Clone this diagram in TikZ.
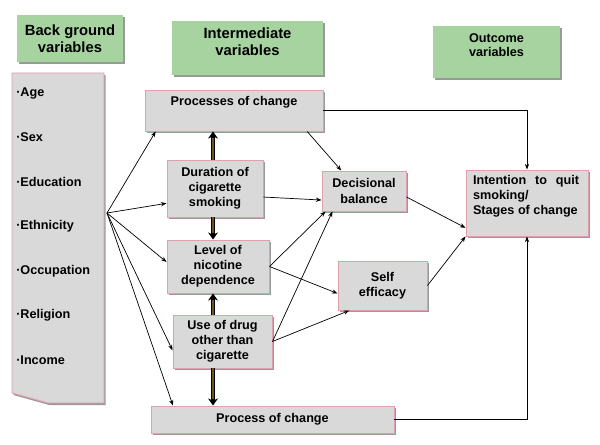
\documentclass[tikz,border=0pt]{standalone}
\usepackage{fontspec}
\setsansfont{Liberation Sans}
\usetikzlibrary{positioning,arrows.meta,shadows}

\definecolor{headgreen}{RGB}{166,211,160}
\definecolor{boxgray}{RGB}{217,217,217}
\definecolor{boxpink}{RGB}{221,160,172}
\definecolor{arrowbrown}{RGB}{110,82,35}
\newcommand{\pxu}{0.025cm}

\tikzset{
  shadebox/.style={drop shadow={shadow xshift=1.2pt,shadow yshift=-1.5pt,fill=black!40,opacity=1}},
  headbox/.style={fill=headgreen, shadebox, inner sep=0pt},
  graybox/.style={fill=boxgray, draw=boxpink, line width=0.7pt, shadebox, inner sep=0pt},
  txt/.style={font=\sffamily\bfseries\fontsize{9}{10.7}\selectfont, align=center, inner sep=0pt},
  headtxt/.style={font=\sffamily\bfseries\fontsize{10.5}{12.2}\selectfont, align=center, inner sep=0pt},
  item/.style={font=\sffamily\bfseries\fontsize{9}{10.7}\selectfont, anchor=west, inner sep=0pt},
  wh/.style 2 args={minimum width=#1*\pxu, minimum height=#2*\pxu},
  conn/.style={-{Stealth[length=4pt,width=3pt]}, line width=0.5pt},
  fatlink/.style={draw=black, line width=3pt, -{Stealth[length=5pt,width=7pt]}},
  fatcore/.style={draw=arrowbrown, line width=1.5pt, shorten >=4.5pt},
}

\begin{document}
\begin{tikzpicture}[x=0.025cm, y=-0.025cm]
\useasboundingbox (0,0) rectangle (600,445);

% headings
\node[headbox, headtxt, wh={106}{47}] (bghead) at (70,38.5) {Back ground\\variables};
\node[headbox, wh={151}{54}] (ivhead) at (247.5,48) {};
\node[headtxt] (ivhead-t) at (247.5,41.5) {Intermediate\\variables};
\node[headbox, wh={127}{52}] (ochead) at (496.5,52) {};
\node[headtxt, font=\sffamily\bfseries\fontsize{9}{10}\selectfont] (ochead-t) at (496.5,45) {Outcome\\variables};

% background variables
\filldraw[fill=boxgray, draw=boxpink, line width=0.7pt, shadebox]
  (12,73) -- (104,73) -- (104,403) -- (48,403) -- (12,393) -- cycle;
\foreach \t [count=\i from 0] in {Age,Sex,Education,Ethnicity,Occupation,Religion,Income}
  \node[item] (v\i) at (16,{93+44.5*\i}) {·\t};
\coordinate (fan) at (107,213);

% intermediate variables
\node[graybox, wh={178}{41}] (poc) at (234,110.5) {};
\node[txt] (poc-t) at (234,102) {Processes of change};
\node[graybox, txt, wh={96}{57}] (dur) at (215,188.5) {Duration of\\cigarette\\smoking};
\node[graybox, txt, wh={102}{53}] (lev) at (218,266.5) {Level of\\nicotine\\dependence};
\node[graybox, txt, wh={99}{53}] (use) at (222.5,341.5) {Use of drug\\other than\\cigarette};
\node[graybox, txt, wh={243}{27}] (pocb) at (272.5,419.5) {Process of change};
\node[graybox, txt, wh={84}{40}] (dec) at (364,191) {Decisional\\balance};
\node[graybox, txt, wh={89}{49}] (self) at (382.5,285.5) {Self\\efficacy};

% outcome
\node[graybox, wh={122}{66}] (int) at (527,203) {};
\node[txt, align=justify, text width=106*\pxu] (int-t) at (526,196) {Intention to quit smoking/\\Stages of change};

% thick arrows
\coordinate (spine) at (213,0);
\foreach \a/\b in {dur.north/poc.south, dur.south/lev.north, use.north/lev.south, use.south/pocb.north} {
  \draw[fatlink] (spine |- \a) -- (spine |- \b);
  \draw[fatcore] (spine |- \a) -- (spine |- \b);
}

% fan from background
\draw[conn] (fan) -- (poc.-165);
\draw[conn] (fan) -- (dur.-163);
\draw[conn] (fan) -- (lev.175);
\draw[conn] (fan) -- (use.-170);
\draw[conn] (fan) -- (pocb.172);

% to decisional balance and self efficacy
\draw[conn] (poc.-16) -- (dec.138);
\draw[conn] (dur.-10) -- (dec.192);
\draw[conn] (lev.east) -- (dec.208);
\draw[conn] (use.east) -- (dec.213);
\draw[conn] (lev.east) -- (self.190);
\draw[conn] (use.east) -- (self.217);

% to outcome
\draw[conn] (poc.east) -| (int.north);
\draw[conn] (dec.-8) -- (int.202);
\draw[conn] (self.east) -- (int.south west);
\draw[conn] (pocb.east) -| (int.south);
\end{tikzpicture}
\end{document}
